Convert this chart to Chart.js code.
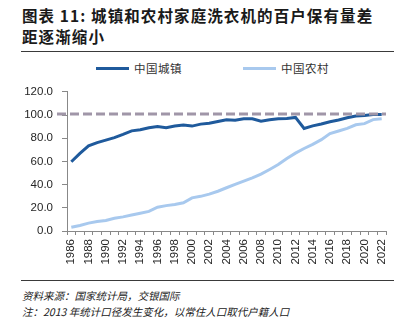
<!DOCTYPE html>
<html>
<head>
<meta charset="utf-8">
<script src="https://cdn.jsdelivr.net/npm/chart.js@4"></script>
<style>
  body { margin: 0; background: #fff; width: 412px; height: 323px; position: relative; overflow: hidden;
         font-family: "Noto Sans CJK SC", sans-serif; color: #1a1a1a; }
  .title { position: absolute; left: 22px; top: 5px; font-size: 15.5px; font-weight: bold; line-height: 21px; letter-spacing: 1.1px; }
  .rule { position: absolute; left: 21px; width: 373px; height: 0; border-top: 1.5px solid #3a3a3a; }
  .legend { position: absolute; top: 60px; font-size: 11.5px; color: #333; letter-spacing: 0.5px; }
  .legend span.line { display: inline-block; width: 33px; height: 3px; vertical-align: middle; margin-right: 5px; position: relative; top: -1px; }
  .note { position: absolute; left: 22px; font-size: 10.5px; font-style: italic; color: #222; }
  #chart { position: absolute; left: 0; top: 76px; }
</style>
</head>
<body>
<div class="title">图表 11: 城镇和农村家庭洗衣机的百户保有量差<br>距逐渐缩小</div>
<div class="rule" style="top:51px"></div>
<div class="legend" id="leg1" style="left:96px"></div>
<div class="legend" id="leg2" style="left:243px"></div>
<canvas id="chart" width="412" height="200"></canvas>
<div class="rule" style="top:280px"></div>
<div class="note" style="top:288px">资料来源：国家统计局，交银国际</div>
<div class="note" style="top:304px">注：2013 年统计口径发生变化，以常住人口取代户籍人口</div>
<script>
  // 数据
  const years = [];
  for (let y = 1986; y <= 2022; y++) years.push(String(y));
  const urbanName = "中国城镇";
  const ruralName = "中国农村";
  const urbanValues = [59.7, 67.0, 73.4, 76.2, 78.4, 80.6, 83.4, 86.4, 87.3, 89.0,
                       90.1, 89.1, 90.6, 91.4, 90.5, 92.2, 92.9, 94.4, 95.9, 95.5,
                       96.8, 96.8, 94.7, 96.0, 96.9, 97.1, 98.0, 88.4, 90.7, 92.3,
                       94.2, 95.7, 97.7, 99.2, 99.7, 100.5, 100.6];
  const ruralValues = [3.2, 4.8, 6.8, 8.2, 9.1, 11.0, 12.2, 13.8, 15.3, 16.9,
                       20.5, 21.9, 22.8, 24.3, 28.6, 29.9, 31.8, 34.3, 37.3, 40.2,
                       43.0, 45.9, 49.1, 53.1, 57.3, 62.6, 67.2, 71.2, 74.8, 78.8,
                       84.0, 86.3, 88.5, 91.6, 92.6, 96.1, 96.9];
  const refValue = 101;
  const yTicks = [0, 20, 40, 60, 80, 100, 120];

  const urbanColor = "#1f5a9c";
  const ruralColor = "#a8c9ee";

  // 图例
  document.getElementById("leg1").innerHTML = '<span class="line" style="background:' + urbanColor + '"></span>' + urbanName;
  document.getElementById("leg2").innerHTML = '<span class="line" style="background:' + ruralColor + '"></span>' + ruralName;

  // 100 参考虚线
  const refLine = {
    id: "refLine",
    afterDatasetsDraw(chart) {
      const ctx = chart.ctx;
      const y = chart.scales.y.getPixelForValue(refValue);
      ctx.save();
      ctx.strokeStyle = "#a096a8";
      ctx.lineWidth = 3;
      ctx.setLineDash([9, 4]);
      ctx.beginPath();
      ctx.moveTo(chart.chartArea.left - 10, y);
      ctx.lineTo(chart.chartArea.right, y);
      ctx.stroke();
      ctx.restore();
    }
  };

  const ctx = document.getElementById("chart").getContext("2d");
  new Chart(ctx, {
    type: "line",
    data: {
      labels: years,
      datasets: [
        { label: urbanName, data: urbanValues, borderColor: urbanColor, borderWidth: 3, pointRadius: 0, tension: 0 },
        { label: ruralName, data: ruralValues, borderColor: ruralColor, borderWidth: 3, pointRadius: 0, tension: 0 }
      ]
    },
    options: {
      responsive: false,
      animation: false,
      layout: { padding: { top: 10, right: 26, left: 0, bottom: 0 } },
      plugins: { legend: { display: false }, tooltip: { enabled: false } },
      scales: {
        x: {
          offset: true,
          afterFit(scale) { scale.height = 45; },
          grid: { display: true, drawOnChartArea: false, offset: true, tickLength: 4, color: "#888" },
          border: { color: "#888", width: 1 },
          ticks: {
            autoSkip: false, minRotation: 90, maxRotation: 90, padding: 4,
            color: "#262626", font: { family: "Liberation Sans", size: 11.5 },
            callback(v, i) { return i % 2 === 0 ? years[i] : ""; }
          }
        },
        y: {
          min: 0, max: 120,
          afterFit(scale) { scale.width = 67; },
          afterBuildTicks(scale) { scale.ticks = yTicks.map(v => ({ value: v })); },
          grid: { display: true, drawOnChartArea: false, tickLength: 5, color: "#888" },
          border: { color: "#888", width: 1 },
          ticks: {
            padding: 9, color: "#262626", font: { family: "Liberation Sans", size: 11.5 },
            callback(v) { return Number(v).toFixed(1); }
          }
        }
      }
    },
    plugins: [refLine]
  });
</script>
</body>
</html>
